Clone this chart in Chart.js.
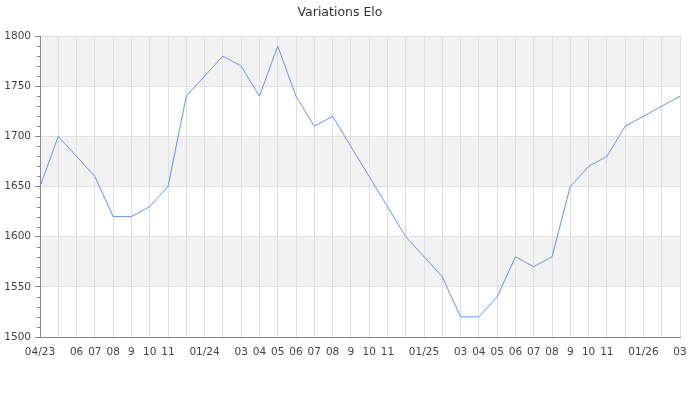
<!DOCTYPE html>
<html><head><meta charset="utf-8">
<script src="https://cdn.jsdelivr.net/npm/chart.js@4/dist/chart.umd.min.js"></script>
<style>html,body{margin:0;padding:0;background:#fff}</style>
</head><body>
<canvas id="c" width="700" height="400"></canvas>
<script>
const chartTitle = 'Variations Elo';
const months = ['2023-04','2023-05','2023-06','2023-07','2023-08','2023-09','2023-10','2023-11','2023-12',
  '2024-01','2024-02','2024-03','2024-04','2024-05','2024-06','2024-07','2024-08','2024-09','2024-10','2024-11','2024-12',
  '2025-01','2025-02','2025-03','2025-04','2025-05','2025-06','2025-07','2025-08','2025-09','2025-10','2025-11','2025-12',
  '2026-01','2026-02','2026-03'];
const tickLabels = ['04/23','','06','07','08','9','10','11','',
  '01/24','','03','04','05','06','07','08','9','10','11','',
  '01/25','','03','04','05','06','07','08','9','10','11','',
  '01/26','','03'];
const elo = [1650,1700,1680,1660,1620,1620,1630,1650,1740,
  1760,1780,1770,1740,1790,1740,1710,1720,1690,1660,1630,1600,
  1580,1560,1520,1520,1540,1580,1570,1580,1650,1670,1680,1710,
  1720,1730,1740];
const yMin = 1500, yMax = 1800, yMajorStep = 50, yMinorStep = 10;
const bands = [[1550,1600],[1650,1700],[1750,1800]];

const FONT = 'DejaVu Sans';
const AXIS = '#888888';
const GRID = '#e0e0e0';

const bandPlugin = {
  id: 'bands',
  beforeDraw(chart) {
    const {ctx, chartArea, scales} = chart;
    ctx.save();
    ctx.fillStyle = '#f2f2f2';
    bands.forEach(([a, b]) => {
      const y1 = scales.y.getPixelForValue(b), y2 = scales.y.getPixelForValue(a);
      ctx.fillRect(chartArea.left, y1, chartArea.right - chartArea.left, y2 - y1);
    });
    ctx.restore();
  }
};
const minorTickPlugin = {
  id: 'minorTicks',
  afterDraw(chart) {
    const {ctx, scales} = chart;
    const s = scales.y;
    ctx.save();
    ctx.strokeStyle = AXIS;
    ctx.lineWidth = 1;
    s.ticks.forEach(t => {
      if (t.value % yMajorStep !== 0) {
        const y = Math.round(s.getPixelForValue(t.value)) + 0.5;
        ctx.beginPath();
        ctx.moveTo(s.right - 3, y);
        ctx.lineTo(s.right, y);
        ctx.stroke();
      }
    });
    ctx.restore();
  }
};

new Chart(document.getElementById('c'), {
  type: 'line',
  data: {
    labels: months,
    datasets: [{
      data: elo,
      borderColor: '#6495ED',
      borderWidth: 1,
      pointRadius: 0,
      pointHoverRadius: 0,
      tension: 0,
      fill: false
    }]
  },
  options: {
    responsive: false,
    animation: false,
    layout: { padding: { left: 0, right: 20, top: 0, bottom: 0 } },
    plugins: {
      legend: { display: false },
      tooltip: { enabled: false },
      title: {
        display: true,
        text: chartTitle,
        color: '#333333',
        font: { family: FONT, size: 12.5, weight: 'normal', lineHeight: 1.2 },
        padding: { top: 5, bottom: 16 }
      }
    },
    scales: {
      x: {
        type: 'category',
        offset: false,
        grid: { color: GRID, drawTicks: true, tickLength: 6, tickColor: 'rgba(0,0,0,0)' },
        border: { color: AXIS, width: 1 },
        ticks: {
          autoSkip: false, maxRotation: 0, minRotation: 0, padding: 3,
          color: '#444444', font: { family: FONT, size: 10.5 },
          callback: (v, i) => tickLabels[i]
        },
        afterFit(scale) { scale.height = 63; scale.paddingLeft = 0; scale.paddingRight = 0; }
      },
      y: {
        min: yMin, max: yMax,
        grid: {
          color: ctx => (ctx.tick && ctx.tick.value % yMajorStep === 0) ? GRID : 'rgba(0,0,0,0)',
          tickColor: ctx => (ctx.tick && ctx.tick.value % yMajorStep === 0) ? AXIS : 'rgba(0,0,0,0)',
          tickLength: 5
        },
        border: { color: AXIS, width: 1 },
        ticks: {
          stepSize: yMinorStep, autoSkip: false, padding: 4,
          color: '#444444', font: { family: FONT, size: 10.5 },
          callback: v => (v % yMajorStep === 0 ? String(v) : '')
        },
        afterFit(scale) { scale.width = 40; scale.paddingTop = 0; scale.paddingBottom = 0; }
      }
    }
  },
  plugins: [bandPlugin, minorTickPlugin]
});
</script>
</body></html>
